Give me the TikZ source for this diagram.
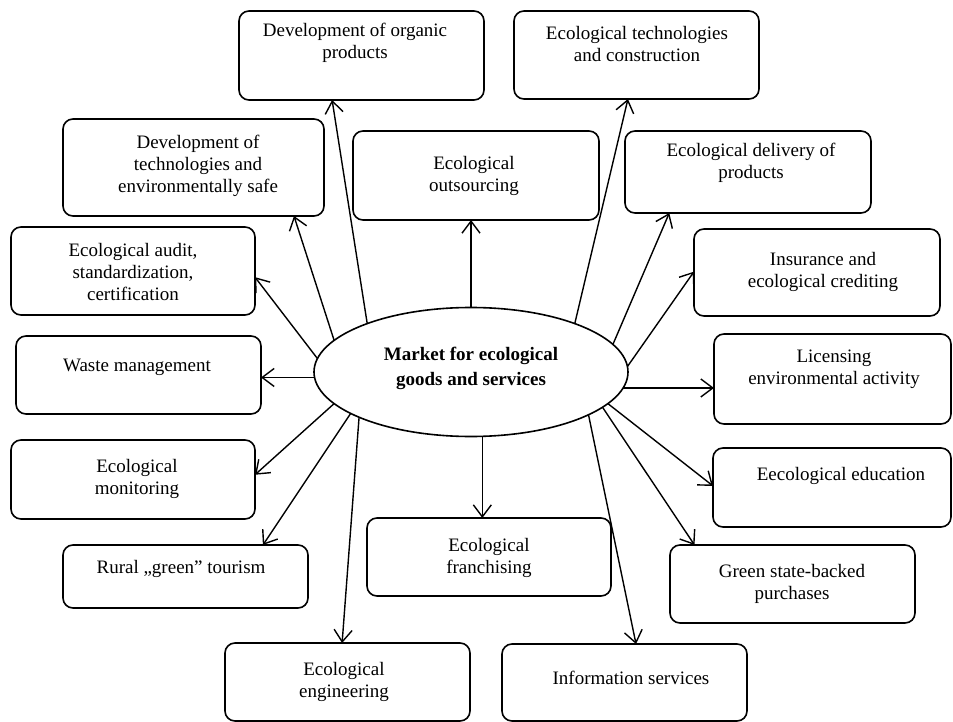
\documentclass[tikz,border=0pt]{standalone}
\usepackage{fontspec}
\setmainfont{Liberation Serif}
\usetikzlibrary{arrows.meta,shapes.geometric,calc}
\newcommand\mkbox[5]{\node[box,minimum width={(#4-#2)*1pt},minimum height={(#5-#3)*1pt}] (#1) at ({(#2+#4)/2},{(#3+#5)/2}) {};}
\begin{document}
\begin{tikzpicture}[x=1pt,y=-1pt,
  box/.style={draw,line width=1.6pt,rounded corners=10pt,inner sep=0pt,outer sep=0pt},
  txt/.style={align=center,font=\fontsize{19}{22}\selectfont,inner sep=0pt},
  conn/.style={line width=1.4pt,-{Straight Barb[length=12pt,width=18pt,line width=1.4pt]}}]
\useasboundingbox[fill=white] (0,0) rectangle (953,722);

\mkbox{b1}{239}{11}{484}{100}
\mkbox{b2}{514}{11}{759}{99}
\mkbox{b3}{63}{119}{324}{216}
\mkbox{b4}{353}{131}{599}{220}
\mkbox{b5}{625}{131}{871}{213}
\mkbox{b6}{694}{229}{940}{316}
\mkbox{b7}{714}{334}{951}{424}
\mkbox{b8}{11}{227}{255}{315}
\mkbox{b9}{16}{336}{261}{414}
\mkbox{b10}{11}{440}{255}{519}
\mkbox{b11}{63}{545}{308}{608}
\mkbox{b12}{225}{643}{470}{721}
\mkbox{b13}{367}{518}{611}{596}
\mkbox{b14}{502}{644}{747}{721}
\mkbox{b15}{670}{545}{915}{623}
\mkbox{b16}{713}{448}{951}{527}

\node[txt] (t1) at (355,43) {Development of organic\\products};
\node[txt] (t2) at (637,44) {Ecological technologies\\and construction};
\node[txt] (t3) at (198,166) {Development of\\technologies and\\environmentally safe};
\node[txt] (t4) at (474,176) {Ecological\\outsourcing};
\node[txt] (t5) at (751,163) {Ecological delivery of\\products};
\node[txt] (t6) at (823,272) {Insurance and\\ecological crediting};
\node[txt] (t7) at (834,369) {Licensing\\environmental activity};
\node[txt] (t8) at (133,272) {Ecological audit,\\standardization,\\certification};
\node[txt] (t9) at (137,367) {Waste management};
\node[txt] (t10) at (137,479) {Ecological\\monitoring};
\node[txt] (t11) at (181,569) {Rural „green” tourism};
\node[txt] (t12) at (344,682) {Ecological\\engineering};
\node[txt] (t13) at (489,558) {Ecological\\franchising};
\node[txt] (t14) at (631,678) {Information services};
\node[txt] (t15) at (792,584) {Green state-backed\\purchases};
\node[txt] (t16) at (841,476) {Eecological education};

\node[ellipse,draw,line width=1.6pt,minimum width=314pt,minimum height=129pt,inner sep=0pt,outer sep=0pt] (ell) at (471,372) {};
\node[txt,font=\fontsize{19}{25}\selectfont\bfseries] (etxt) at (471,368) {Market for ecological\\goods and services};

\draw[conn] (ell.155.6) -- ($(b1.south west)!0.38!(b1.south east)$);
\draw[conn] (ell.167.7) -- ($(b3.south west)!0.885!(b3.south east)$);
\draw[conn] (ell.175) -- ($(b8.north east)!0.57!(b8.south east)$);
\draw[conn] (ell.182) -- (ell.182 -| b9.east);
\draw[conn] (ell.north) -- (ell.north |- b4.south);
\draw[conn] (ell.25) -- ($(b2.south west)!0.465!(b2.south east)$);
\draw[conn] (ell.11.5) -- ($(b5.south west)!0.18!(b5.south east)$);
\draw[conn] (ell.2.2) -- ($(b6.north west)!0.49!(b6.south west)$);
\draw[conn] (ell.354) -- (ell.354 -| b7.west);
\draw[conn] (ell.347) -- ($(b16.north west)!0.48!(b16.south west)$);
\draw[conn] (ell.345) -- ($(b15.north west)!0.1!(b15.north east)$);
\draw[conn] (ell.340) -- ($(b14.north west)!0.547!(b14.north east)$);
\draw[conn] (ell.280) -- (ell.280 |- b13.north);
\draw[conn] (ell.202.9) -- ($(b12.north west)!0.478!(b12.north east)$);
\draw[conn] (ell.199.6) -- ($(b11.north west)!0.816!(b11.north east)$);
\draw[conn] (ell.193.4) -- ($(b10.north east)!0.44!(b10.south east)$);
\end{tikzpicture}
\end{document}
